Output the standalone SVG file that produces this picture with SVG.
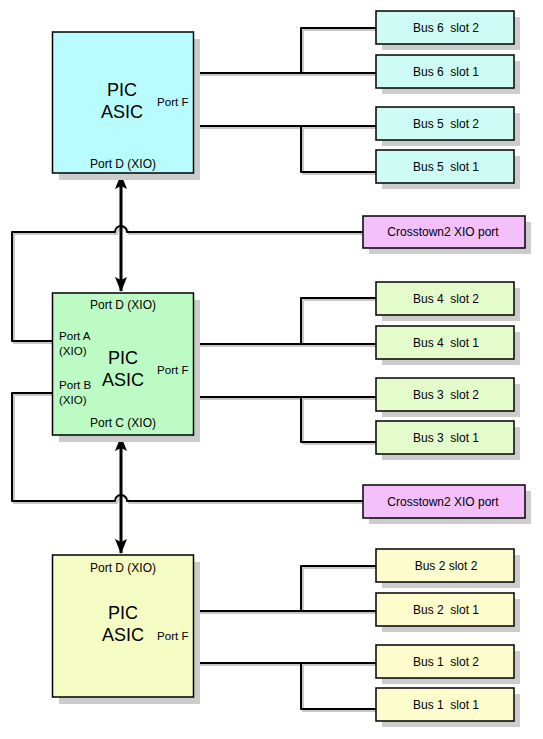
<svg xmlns="http://www.w3.org/2000/svg" width="543" height="739" viewBox="0 0 543 739">
<style>
.bg{fill:#ffffff}
.sh{fill:#cccccc}
.box{stroke:#000;stroke-width:1.5}
.asic1{fill:#b8fcff}
.asic2{fill:#bcfcc4}
.asic3{fill:#f4fcc4}
.bus1{fill:#ccfcf4}
.bus2{fill:#e4fccc}
.bus3{fill:#fcfccc}
.xt{fill:#f4c0fc}
text{font-family:"Liberation Sans",Arial,sans-serif;fill:#000;white-space:pre}
.big{font-size:18px;text-anchor:middle}
.sm{font-size:12px}
.pt{font-size:11.6px}
.mid{text-anchor:middle}
.ln{fill:none;stroke:#000;stroke-width:2;stroke-linejoin:round}
.lns{fill:none;stroke:#c8c8c8;stroke-width:2;stroke-linejoin:round}
.ar{fill:none;stroke:#000;stroke-width:3}
</style>
<defs>
<marker id="ah" viewBox="0 0 15 12" refX="14" refY="6" markerWidth="15" markerHeight="12" markerUnits="userSpaceOnUse" orient="auto-start-reverse">
<path d="M0 0 L15 6 L0 12 L3 6 Z" fill="#000"/>
</marker>
</defs>
<rect class="bg" x="0" y="0" width="543" height="739"/>

<g id="connectors">
<g transform="translate(2,2)">
<path class="lns" d="M193 73 H376 M301 73 V28 H376 M193 126 H376 M301 126 V172 H376"/>
<path class="lns" d="M193 344 H376 M301 344 V298 H376 M193 397 H376 M301 397 V442 H376"/>
<path class="lns" d="M193 611 H376 M301 611 V566 H376 M193 663 H376 M301 663 V709 H376"/>
<path class="lns" d="M52 341 H12 V232 H115 A6 6 0 0 1 127 232 H363"/>
<path class="lns" d="M52 393 H12 V501 H115 A6 6 0 0 1 127 501 H363"/>
</g>
<path class="ln" d="M193 73 H376 M301 73 V28 H376 M193 126 H376 M301 126 V172 H376"/>
<path class="ln" d="M193 344 H376 M301 344 V298 H376 M193 397 H376 M301 397 V442 H376"/>
<path class="ln" d="M193 611 H376 M301 611 V566 H376 M193 663 H376 M301 663 V709 H376"/>
<path class="ln" d="M52 341 H12 V232 H115 A6 6 0 0 1 127 232 H363"/>
<path class="ln" d="M52 393 H12 V501 H115 A6 6 0 0 1 127 501 H363"/>
<line class="ar" x1="121" y1="175" x2="121" y2="291" marker-start="url(#ah)" marker-end="url(#ah)"/>
<line class="ar" x1="121" y1="437" x2="121" y2="553" marker-start="url(#ah)" marker-end="url(#ah)"/>
</g>

<g id="asic-top">
<rect class="sh" x="59" y="39" width="141" height="141"/>
<rect class="box asic1" x="52.5" y="32" width="141" height="141"/>
<text class="big" x="122" y="96">PIC</text>
<text class="big" x="122" y="118">ASIC</text>
<text class="pt" x="157" y="106">Port F</text>
<text class="sm mid" x="123" y="168">Port D (XIO)</text>
</g>

<g id="asic-mid">
<rect class="sh" x="59" y="300" width="141" height="142"/>
<rect class="box asic2" x="52.5" y="293" width="141" height="142"/>
<text class="sm mid" x="123" y="309">Port D (XIO)</text>
<text class="pt" x="59" y="340">Port A</text>
<text class="pt" x="59" y="355">(XIO)</text>
<text class="big" x="123" y="364">PIC</text>
<text class="big" x="123" y="386">ASIC</text>
<text class="pt" x="157" y="374">Port F</text>
<text class="pt" x="59" y="389">Port B</text>
<text class="pt" x="59" y="404">(XIO)</text>
<text class="sm mid" x="123" y="427">Port C (XIO)</text>
</g>

<g id="asic-bot">
<rect class="sh" x="59" y="562" width="141" height="142"/>
<rect class="box asic3" x="52.5" y="555" width="141" height="142"/>
<text class="sm mid" x="123" y="572">Port D (XIO)</text>
<text class="big" x="123" y="619">PIC</text>
<text class="big" x="123" y="641">ASIC</text>
<text class="pt" x="157" y="640">Port F</text>
</g>

<g id="bus6-slot2"><rect class="sh" x="382" y="17" width="138" height="33"/><rect class="box bus1" x="376" y="11" width="138" height="33"/><text class="sm mid" x="446" y="32">Bus 6  slot 2</text></g>
<g id="bus6-slot1"><rect class="sh" x="382" y="61" width="138" height="33"/><rect class="box bus1" x="376" y="55" width="138" height="33"/><text class="sm mid" x="446" y="76">Bus 6  slot 1</text></g>
<g id="bus5-slot2"><rect class="sh" x="382" y="113" width="138" height="33"/><rect class="box bus1" x="376" y="107" width="138" height="33"/><text class="sm mid" x="446" y="128">Bus 5  slot 2</text></g>
<g id="bus5-slot1"><rect class="sh" x="382" y="156" width="138" height="33"/><rect class="box bus1" x="376" y="150" width="138" height="33"/><text class="sm mid" x="446" y="171">Bus 5  slot 1</text></g>

<g id="crosstown-top"><rect class="sh" x="369" y="222" width="162" height="32"/><rect class="box xt" x="363" y="216" width="162" height="32"/><text class="sm mid" x="443" y="236">Crosstown2 XIO port</text></g>

<g id="bus4-slot2"><rect class="sh" x="382" y="288" width="138" height="33"/><rect class="box bus2" x="376" y="282" width="138" height="33"/><text class="sm mid" x="446" y="303">Bus 4  slot 2</text></g>
<g id="bus4-slot1"><rect class="sh" x="382" y="332" width="138" height="33"/><rect class="box bus2" x="376" y="326" width="138" height="33"/><text class="sm mid" x="446" y="347">Bus 4  slot 1</text></g>
<g id="bus3-slot2"><rect class="sh" x="382" y="384" width="138" height="33"/><rect class="box bus2" x="376" y="378" width="138" height="33"/><text class="sm mid" x="446" y="399">Bus 3  slot 2</text></g>
<g id="bus3-slot1"><rect class="sh" x="382" y="427" width="138" height="33"/><rect class="box bus2" x="376" y="421" width="138" height="33"/><text class="sm mid" x="446" y="442">Bus 3  slot 1</text></g>

<g id="crosstown-bot"><rect class="sh" x="369" y="491" width="162" height="33"/><rect class="box xt" x="363" y="485" width="162" height="33"/><text class="sm mid" x="443" y="506">Crosstown2 XIO port</text></g>

<g id="bus2-slot2"><rect class="sh" x="382" y="555" width="138" height="33"/><rect class="box bus3" x="376" y="549" width="138" height="33"/><text class="sm mid" x="446" y="570">Bus 2 slot 2</text></g>
<g id="bus2-slot1"><rect class="sh" x="382" y="599" width="138" height="33"/><rect class="box bus3" x="376" y="593" width="138" height="33"/><text class="sm mid" x="446" y="614">Bus 2  slot 1</text></g>
<g id="bus1-slot2"><rect class="sh" x="382" y="651" width="138" height="33"/><rect class="box bus3" x="376" y="645" width="138" height="33"/><text class="sm mid" x="446" y="666">Bus 1  slot 2</text></g>
<g id="bus1-slot1"><rect class="sh" x="382" y="694" width="138" height="33"/><rect class="box bus3" x="376" y="688" width="138" height="33"/><text class="sm mid" x="446" y="709">Bus 1  slot 1</text></g>
</svg>
